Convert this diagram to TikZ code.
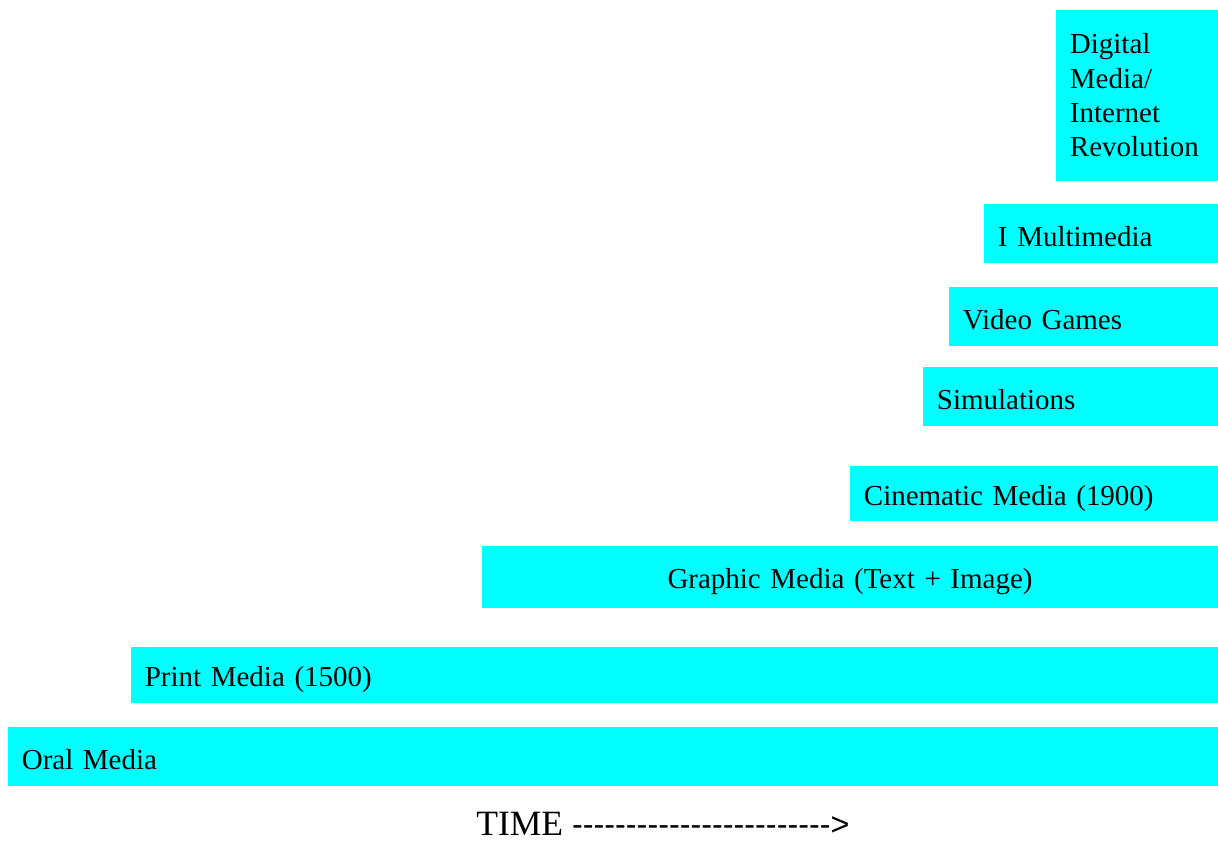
\documentclass[tikz,border=0pt]{standalone}
\usepackage{fontspec}
\setmainfont{Liberation Serif}
\newfontfamily\dashfont{Liberation Sans}[Ligatures=TeXOff]
\usepackage{tikz}
\usetikzlibrary{positioning}
\definecolor{barcolor}{RGB}{0,255,255}
\newcommand\barstrut{\rule[-0.15em]{0pt}{1.18em}}

\begin{document}
\begin{tikzpicture}[x=0.025cm,y=-0.025cm,
bar/.style={fill=barcolor,inner xsep=0.35cm,inner ysep=0pt,align=left,font=\fontsize{20.6}{24.4}\selectfont},
oneline/.style={bar,execute at begin node=\barstrut},
lbl/.style={anchor=base west,inner sep=0pt,font=\fontsize{25.3}{28}\selectfont}]
\useasboundingbox (0,0) rectangle (1218,842);
\node[oneline,minimum width=30.25cm,minimum height=1.475cm,text width=29.55cm] (oral) at (613,756.5) {Oral Media};
\node[oneline,minimum width=27.175cm,minimum height=1.4cm,text width=26.475cm] (print) at (674.5,675) {Print Media (1500)};
\node[oneline,minimum width=18.4cm,minimum height=1.55cm,text width=17.7cm,align=center] (graphic) at (850,577) {Graphic Media (Text + Image)};
\node[oneline,minimum width=9.2cm,minimum height=1.375cm,text width=8.5cm] (cinema) at (1034,493.5) {Cinematic Media (1900)};
\node[oneline,minimum width=7.375cm,minimum height=1.475cm,text width=6.675cm] (sim) at (1070.5,396.5) {Simulations};
\node[oneline,minimum width=6.725cm,minimum height=1.475cm,text width=6.025cm] (video) at (1083.5,316.5) {Video Games};
\node[oneline,minimum width=5.85cm,minimum height=1.475cm,text width=5.15cm] (multi) at (1101,233.5) {I Multimedia};
\node[bar,minimum width=4.05cm,minimum height=4.275cm,text width=3.35cm] (digital) at (1137,95.5) {Digital\\Media/\\Internet\\Revolution};
\node[lbl] (time) at (476,835) {TIME {\dashfont\fontsize{23}{23}\selectfont ------------------------>}};
\end{tikzpicture}
\end{document}
